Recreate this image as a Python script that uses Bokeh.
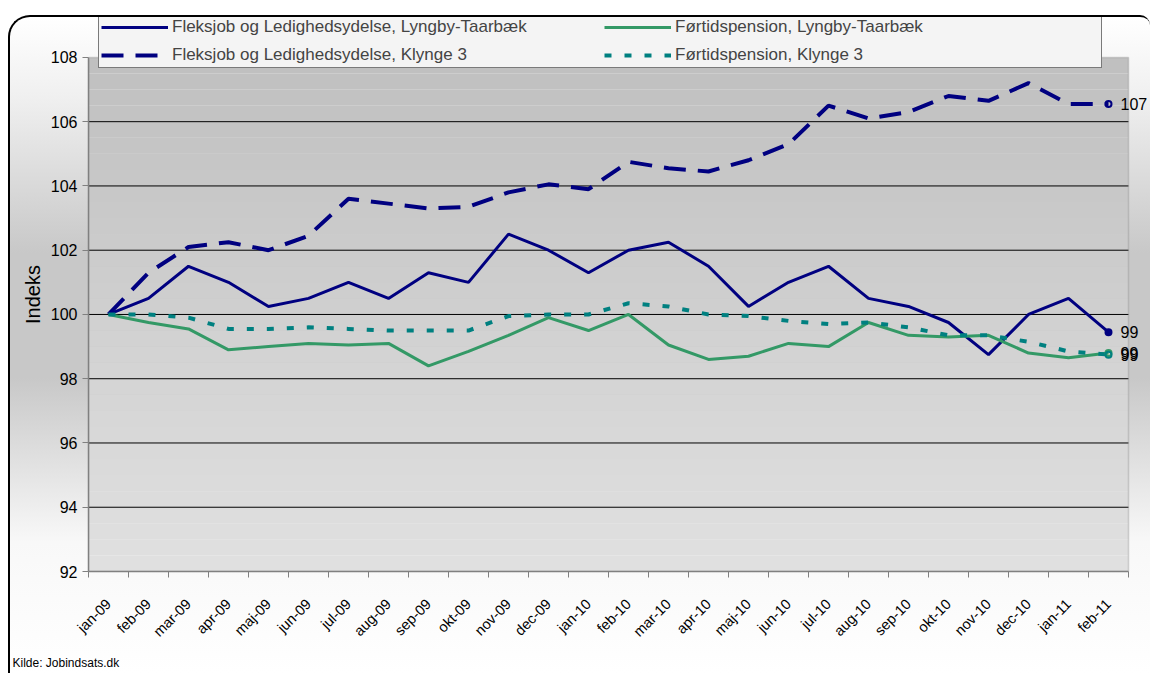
import math
from bokeh.plotting import figure
from bokeh.models import (FixedTicker, Legend, LegendItem, Title, BoxAnnotation,
                          ColumnDataSource, Range1d)
from bokeh.embed import file_html
from bokeh.resources import INLINE
from bokeh.core.properties import value

# ---------------- data ----------------
months = ["jan-09", "feb-09", "mar-09", "apr-09", "maj-09", "jun-09", "jul-09",
          "aug-09", "sep-09", "okt-09", "nov-09", "dec-09", "jan-10", "feb-10",
          "mar-10", "apr-10", "maj-10", "jun-10", "jul-10", "aug-10", "sep-10",
          "okt-10", "nov-10", "dec-10", "jan-11", "feb-11"]

fleks_lyngby = [100, 100.5, 101.5, 101.0, 100.25, 100.5, 101.0, 100.5, 101.3, 101.0,
                102.5, 102.0, 101.3, 102.0, 102.25, 101.5, 100.25, 101.0, 101.5, 100.5,
                100.25, 99.75, 98.75, 100.0, 100.5, 99.45]
fleks_klynge = [100, 101.3, 102.1, 102.25, 102.0, 102.45, 103.6, 103.45, 103.3, 103.35,
                103.8, 104.05, 103.9, 104.75, 104.55, 104.45, 104.8, 105.3, 106.5, 106.1,
                106.3, 106.8, 106.65, 107.2, 106.55, 106.55]
fort_lyngby = [100, 99.75, 99.55, 98.9, 99.0, 99.1, 99.05, 99.1, 98.4, 98.85,
               99.35, 99.9, 99.5, 100.0, 99.05, 98.6, 98.7, 99.1, 99.0, 99.75,
               99.35, 99.3, 99.35, 98.8, 98.65, 98.8]
fort_klynge = [100, 100.0, 99.9, 99.55, 99.55, 99.6, 99.55, 99.5, 99.5, 99.5,
               99.95, 100.0, 100.0, 100.35, 100.25, 100.0, 99.95, 99.8, 99.7, 99.75,
               99.6, 99.35, 99.35, 99.15, 98.85, 98.75]

series_names = ["Fleksjob og Ledighedsydelse, Lyngby-Taarbæk",
                "Fleksjob og Ledighedsydelse, Klynge 3",
                "Førtidspension, Lyngby-Taarbæk",
                "Førtidspension, Klynge 3"]
y_ticks = [92, 94, 96, 98, 100, 102, 104, 106, 108]
source_text = "Kilde: Jobindsats.dk"
y_label = "Indeks"

FONT = "Liberation Sans"
NAVY = "#000080"
GREEN = "#339966"
TEAL = "#008080"

n = len(months)
xs = [i + 0.5 for i in range(n)]

# layout geometry (pixels)
W, H = 1142, 658
B_LEFT, B_BOTTOM = 78, 103
PX_PER_CAT = 40
PLOT_H = 515  # pixel height of the 92..108 plot area
frame_w = W - B_LEFT
frame_h = H - B_BOTTOM
y0, y1 = y_ticks[0], y_ticks[-1]
y_top = y0 + (y1 - y0) * frame_h / PLOT_H
x_right = frame_w / PX_PER_CAT

p = figure(width=W, height=H,
           x_range=Range1d(0, x_right), y_range=Range1d(y0, y_top),
           output_backend="svg", toolbar_location=None,
           min_border_left=B_LEFT, min_border_right=0, min_border_top=0,
           min_border_bottom=B_BOTTOM)
p.border_fill_color = None
p.background_fill_color = None
p.outline_line_color = None
p.styles = {
    "margin-top": "15px",
    "margin-left": "8px",
    "border-top": "2px solid black",
    "border-left": "2px solid black",
    "border-top-left-radius": "22px",
    "border-top-right-radius": "10px",
    "background": "linear-gradient(to bottom, #ffffff 0%, #f0f0f0 12%, #c8c8c8 36%, #c8c8c8 55%, #f8f8f8 80%, #ffffff 100%)",
}

# plot area gradient (decorative background)
nb = 32
for k in range(nb):
    t = k / (nb - 1)
    c = int(round(0xe0 + (0xc0 - 0xe0) * t))
    b = y0 + (y1 - y0) * k / nb
    tp = y0 + (y1 - y0) * (k + 1) / nb
    p.add_layout(BoxAnnotation(left=0, right=n, bottom=b, top=tp,
                               fill_color="#%02x%02x%02x" % (c, c, c),
                               fill_alpha=1, line_color=None, level="image"))
# plot area border
p.add_layout(BoxAnnotation(left=0, right=n, bottom=y0, top=y1, fill_color=None,
                           line_color="#808080", line_width=1.5, level="underlay"))

# horizontal gridlines limited to the plot area
p.xgrid.grid_line_color = None
p.ygrid.grid_line_color = None
inner = y_ticks[1:-1]
g = p.segment(x0=[0] * len(inner), x1=[n] * len(inner), y0=inner, y1=inner,
              line_color="#000000", line_width=1)
g.level = "underlay"

# y axis
p.yaxis.ticker = FixedTicker(ticks=y_ticks)
p.yaxis.bounds = (y0, y1)
p.yaxis.axis_label = y_label
p.yaxis.axis_label_text_font = FONT
p.yaxis.axis_label_text_font_size = "20px"
p.yaxis.axis_label_text_font_style = "normal"
p.yaxis.axis_label_text_color = "black"
p.yaxis.axis_label_standoff = 4
p.yaxis.major_label_text_font = FONT
p.yaxis.major_label_text_font_size = "16px"
p.yaxis.major_label_text_color = "black"
p.yaxis.axis_line_color = "#808080"
p.yaxis.axis_line_width = 1.5
p.yaxis.major_tick_line_color = "#808080"
p.yaxis.major_tick_out = 6
p.yaxis.major_tick_in = 0
p.yaxis.minor_tick_line_color = None

# x axis
p.xaxis.ticker = FixedTicker(ticks=xs, minor_ticks=list(range(n + 1)))
p.xaxis.bounds = (0, n)
p.xaxis.major_label_overrides = {x: m for x, m in zip(xs, months)}
p.xaxis.major_label_orientation = math.pi / 4
p.xaxis.major_label_standoff = 24
p.xaxis.major_label_text_font = FONT
p.xaxis.major_label_text_font_size = "14.5px"
p.xaxis.major_label_text_color = "black"
p.xaxis.major_tick_line_color = None
p.xaxis.major_tick_out = 0
p.xaxis.major_tick_in = 0
p.xaxis.minor_tick_line_color = "#808080"
p.xaxis.minor_tick_out = 6
p.xaxis.minor_tick_in = 0
p.xaxis.axis_line_color = "#808080"
p.xaxis.axis_line_width = 1.5

# lines
r1 = p.line(xs, fleks_lyngby, line_color=NAVY, line_width=3)
r2 = p.line(xs, fleks_klynge, line_color=NAVY, line_width=4, line_dash="22 12")
r3 = p.line(xs, fort_lyngby, line_color=GREEN, line_width=3)
r4 = p.line(xs, fort_klynge, line_color=TEAL, line_width=4, line_dash="7 13")

# end markers + labels
all_series = (fleks_lyngby, fleks_klynge, fort_lyngby, fort_klynge)
ends = [(fleks_lyngby, NAVY, NAVY), (fleks_klynge, NAVY, None),
        (fort_lyngby, GREEN, None), (fort_klynge, TEAL, None)]
for vals, lc, fc in ends:
    p.scatter([xs[-1]], [vals[-1]], size=6, line_color=lc, line_width=2,
              fill_color=fc)
lab_src = ColumnDataSource(dict(
    x=[xs[-1]] * 4,
    y=[s[-1] for s in all_series],
    t=["%d" % int(math.floor(s[-1] + 0.5)) for s in all_series]))
p.text(x="x", y="y", text="t", source=lab_src, x_offset=12, text_baseline="middle",
       text_align="left", text_font=value(FONT), text_font_size="16px", text_color="black")

legend = Legend(items=[LegendItem(label=series_names[0], renderers=[r1]),
                       LegendItem(label=series_names[1], renderers=[r2]),
                       LegendItem(label=series_names[2], renderers=[r3]),
                       LegendItem(label=series_names[3], renderers=[r4])],
                location=(10, 503), orientation="vertical", ncols=2)
legend.label_text_font = FONT
legend.label_text_font_size = "17px"
legend.glyph_width = 67
legend.glyph_height = 20
legend.label_height = 20
legend.label_width = 424
legend.label_standoff = 4
legend.padding = 2
legend.spacing = 8
legend.margin = 0
legend.border_line_color = "black"
legend.border_line_width = 1
legend.background_fill_color = "#f4f4f4"
legend.background_fill_alpha = 1
p.add_layout(legend, "center")

src_title = Title(text=source_text, align="left", offset=-76, standoff=11,
                  text_font=FONT, text_font_size="12px", text_font_style="normal",
                  text_color="black")
p.add_layout(src_title, "below")

open("out.html", "w").write(file_html(p, INLINE))
